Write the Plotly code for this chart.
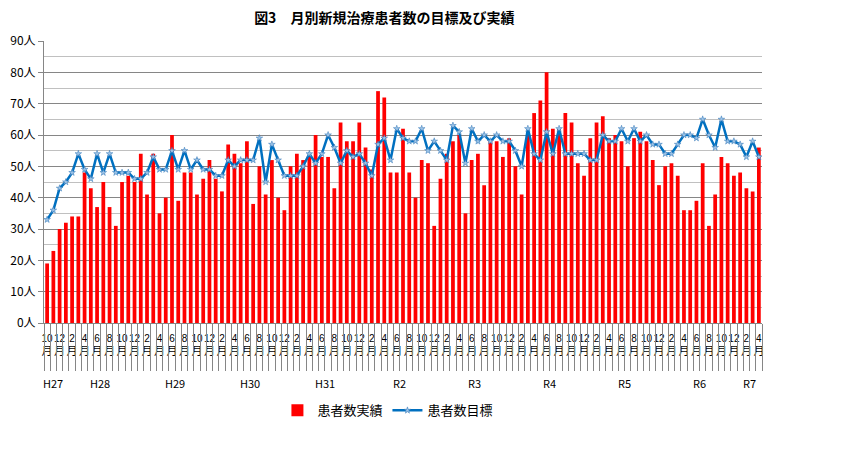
import plotly.graph_objects as go

# 年度区分ごとの月（H27は10月から、R7は4月まで）
era_labels = ["H27", "H28", "H29", "H30", "H31", "R2", "R3", "R4", "R5", "R6", "R7"]
era_months = [
    [10, 11, 12],
    list(range(1, 13)), list(range(1, 13)), list(range(1, 13)),
    list(range(1, 13)), list(range(1, 13)), list(range(1, 13)),
    list(range(1, 13)), list(range(1, 13)), list(range(1, 13)),
    [1, 2, 3, 4],
]

# 患者数実績（月別）
actual = [
    19, 23, 30, 32, 34, 34, 48, 43, 37, 45, 37, 31, 45, 47, 45, 54, 41, 54, 35, 40,
    60, 39, 48, 48, 41, 46, 52, 46, 42, 57, 54, 51, 58, 38, 50, 41, 52, 40, 36, 50, 54, 52, 53,
    60, 53, 53, 43, 64, 58, 58, 64, 56, 49, 74, 72, 48, 48, 62, 48, 40, 52, 51, 31, 46, 54,
    58, 60, 35, 52, 54, 44, 58, 58, 53, 59, 50, 41, 61, 67, 71, 80, 62, 62, 67, 64, 51, 47, 59,
    64, 66, 59, 60, 58, 50, 59, 61, 58, 52, 44, 50, 51, 47, 36, 36, 39, 51, 31, 41, 53, 51, 47, 48, 43, 42, 56,
]

# 患者数目標（月別）
target = [
    33, 36, 43, 45, 48, 54, 49, 46, 54, 48, 54, 48, 48, 48, 46, 46, 48, 53, 49, 49,
    55, 49, 55, 49, 52, 49, 49, 47, 47, 52, 50, 52, 52, 52, 59, 45, 57, 52, 47, 47, 47, 50, 54,
    51, 54, 60, 56, 51, 55, 53, 54, 51, 47, 57, 59, 52, 62, 59, 58, 58, 62, 55, 58, 55, 52,
    63, 61, 51, 62, 58, 60, 58, 60, 58, 58, 55, 50, 62, 54, 52, 61, 54, 62, 54, 54, 54, 54, 52,
    52, 60, 58, 58, 62, 58, 62, 58, 60, 57, 57, 54, 54, 57, 60, 60, 59, 65, 60, 56, 65, 58, 58, 57, 53, 58, 53,
]

FONT = "Noto Sans CJK JP"
GRID = "#868686"

# カテゴリ（例: H28/4）と目盛ラベル
categories = []
month_of = []
for era, months in zip(era_labels, era_months):
    for m in months:
        categories.append("{}/{}".format(era, m))
        month_of.append(m)
n = len(categories)
tick_vals = categories[::2]
tick_text = ["{}<br><span style='font-size:11px'>月</span>".format(m) for m in month_of[::2]]

# 区切り線の位置（各月の境界と年度の境界）
month_bounds = [i - 0.5 for i in range(n + 1)]
era_bounds = [-0.5]
era_centers = []
pos = 0
for months in era_months:
    era_centers.append(pos + (len(months) - 1) / 2)
    pos += len(months)
    era_bounds.append(pos - 0.5)

fig = go.Figure()
fig.add_trace(go.Bar(x=categories, y=actual, name="患者数実績",
                     marker=dict(color="#ff0000", line=dict(width=0))))
fig.add_trace(go.Scatter(x=categories, y=target, name="患者数目標",
                         mode="lines+markers",
                         line=dict(color="#0070c0", width=2.5),
                         marker=dict(symbol="star", size=5, color="#9dc3e6",
                                     line=dict(color="#2e75b6", width=0.5))))

for era, cx in zip(era_labels, era_centers):
    fig.add_annotation(x=cx, xref="x2", y=-0.211, yref="paper", yanchor="middle",
                       text=era, showarrow=False,
                       font=dict(size=11, color="#000000", family=FONT))

# ページの余白(8px)を差し引いた大きさ
fig.update_layout(
    width=838, height=457,
    margin=dict(l=36, r=84, t=33, b=142, autoexpand=False),
    paper_bgcolor="white", plot_bgcolor="white",
    font=dict(family=FONT, color="#000000"),
    title=dict(text="<b>図3　月別新規治療患者数の目標及び実績</b>",
               x=0.449, xref="container", xanchor="center",
               y=0.978, yanchor="middle", font=dict(size=14, family=FONT)),
    bargap=0.4,
    showlegend=True,
    legend=dict(orientation="h", x=0.479, xanchor="center", y=-0.31, yanchor="middle",
                font=dict(size=13, family=FONT), traceorder="normal"),
    xaxis=dict(type="category", categoryorder="array", categoryarray=categories,
               range=[-0.5, n - 0.5], tickmode="array", tickvals=tick_vals, ticktext=tick_text,
               ticks="", showline=True, linecolor=GRID, showgrid=False, automargin=False,
               ticklabelstandoff=6,
               tickfont=dict(size=10, color="#000000",
                             family="Liberation Sans, Noto Sans CJK JP"),
               tickangle=0),
    xaxis2=dict(overlaying="x", anchor="y", side="bottom", type="linear",
                range=[-0.5, n - 0.5], tickmode="array", tickvals=month_bounds,
                ticks="outside", ticklen=47, tickcolor=GRID, tickwidth=1, automargin=False,
                showticklabels=False, showgrid=False, zeroline=False, showline=False),
    xaxis3=dict(overlaying="x", anchor="y", side="bottom", type="linear",
                range=[-0.5, n - 0.5], tickmode="array", tickvals=era_bounds,
                ticks="outside", ticklen=68, tickcolor=GRID, tickwidth=1, automargin=False,
                showticklabels=False, showgrid=False, zeroline=False, showline=False),
    yaxis=dict(range=[0, 90], dtick=10, ticksuffix="人", showgrid=True, gridcolor=GRID,
               gridwidth=1, showline=True, linecolor=GRID, ticks="outside", ticklen=5,
               tickcolor=GRID, zeroline=False, automargin=False,
               tickfont=dict(size=12, family=FONT),
               minor=dict(dtick=5, showgrid=True, gridcolor="#c0c0c0", gridwidth=1)),
)

fig.write_html("out.html")
